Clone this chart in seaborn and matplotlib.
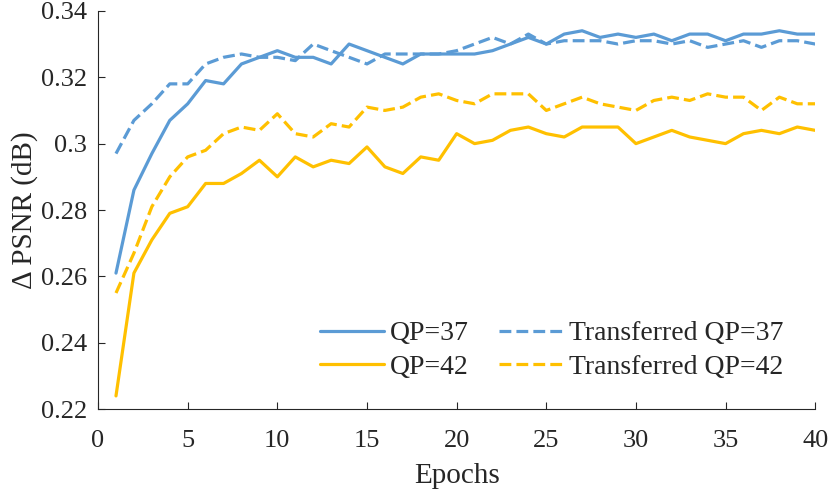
import numpy as np
import pandas as pd
import matplotlib
matplotlib.use('Agg')
import matplotlib.pyplot as plt
from matplotlib.ticker import FuncFormatter
import seaborn as sns

# ---------------------------------------------------------------
# datos (epocas 1..40)
# ---------------------------------------------------------------
epochs = list(range(1, 41))

qp37 = [0.261, 0.286, 0.297, 0.307, 0.312, 0.319, 0.318, 0.324, 0.326, 0.328,
        0.326, 0.326, 0.324, 0.330, 0.328, 0.326, 0.324, 0.327, 0.327, 0.327,
        0.327, 0.328, 0.330, 0.332, 0.330, 0.333, 0.334, 0.332, 0.333, 0.332,
        0.333, 0.331, 0.333, 0.333, 0.331, 0.333, 0.333, 0.334, 0.333, 0.333]

trans37 = [0.297, 0.307, 0.312, 0.318, 0.318, 0.324, 0.326, 0.327, 0.326, 0.326,
           0.325, 0.330, 0.328, 0.326, 0.324, 0.327, 0.327, 0.327, 0.327, 0.328,
           0.330, 0.332, 0.330, 0.333, 0.330, 0.331, 0.331, 0.331, 0.330, 0.331,
           0.331, 0.330, 0.331, 0.329, 0.330, 0.331, 0.329, 0.331, 0.331, 0.330]

qp42 = [0.224, 0.261, 0.271, 0.279, 0.281, 0.288, 0.288, 0.291, 0.295, 0.290,
        0.296, 0.293, 0.295, 0.294, 0.299, 0.293, 0.291, 0.296, 0.295, 0.303,
        0.300, 0.301, 0.304, 0.305, 0.303, 0.302, 0.305, 0.305, 0.305, 0.300,
        0.302, 0.304, 0.302, 0.301, 0.300, 0.303, 0.304, 0.303, 0.305, 0.304]

trans42 = [0.255, 0.267, 0.281, 0.290, 0.296, 0.298, 0.303, 0.305, 0.304, 0.309,
           0.303, 0.302, 0.306, 0.305, 0.311, 0.310, 0.311, 0.314, 0.315, 0.313,
           0.312, 0.315, 0.315, 0.315, 0.310, 0.312, 0.314, 0.312, 0.311, 0.310,
           0.313, 0.314, 0.313, 0.315, 0.314, 0.314, 0.310, 0.314, 0.312, 0.312]

series = [
    ('QP=37', qp37, '#5b9bd5', '-'),
    ('QP=42', qp42, '#ffc000', '-'),
    ('Transferred QP=37', trans37, '#5b9bd5', '--'),
    ('Transferred QP=42', trans42, '#ffc000', '--'),
]

# ---------------------------------------------------------------
# estilo
# ---------------------------------------------------------------
sns.set_style('ticks')
plt.rcParams['font.family'] = ['Liberation Serif', 'DejaVu Serif']

fig = plt.figure(figsize=(8.31, 4.93), dpi=100)
ax = fig.add_axes([0.118, 0.170, 0.863, 0.808])

for name, vals, color, ls in series:
    df = pd.DataFrame({'epoch': epochs, 'val': vals})
    kw = dict(dashes=(4.0, 2.4)) if ls == '--' else {}
    sns.lineplot(data=df, x='epoch', y='val', ax=ax, color=color,
                 linestyle=ls, linewidth=2.3, label=name, **kw)

ax.set_xlim(0, 40)
ax.set_ylim(0.22, 0.34)
ax.set_xticks(np.arange(0, 41, 5))
ax.set_yticks(np.arange(0.22, 0.3401, 0.02))
ax.yaxis.set_major_formatter(FuncFormatter(lambda v, p: f'{v:g}'))

ax.set_xlabel('Epochs', fontsize=21, labelpad=8)
ax.set_ylabel('Δ PSNR (dB)', fontsize=21, labelpad=2)
ax.tick_params(direction='in', length=5, width=0.8, labelsize=19,
               colors='#262626')
ax.tick_params(axis='x', pad=15)
ax.tick_params(axis='y', pad=8)
for s in ['left', 'bottom']:
    ax.spines[s].set_color('#262626')
    ax.spines[s].set_linewidth(0.8)
sns.despine(ax=ax)

h, l = ax.get_legend_handles_labels()
ax.legend(h, l, ncol=2, frameon=False, fontsize=20, loc='lower right',
          bbox_to_anchor=(0.99, 0.01), handlelength=2.3, handletextpad=0.2,
          columnspacing=1.1, labelspacing=0.3)

plt.savefig('out.png', dpi=100)
plt.close()
